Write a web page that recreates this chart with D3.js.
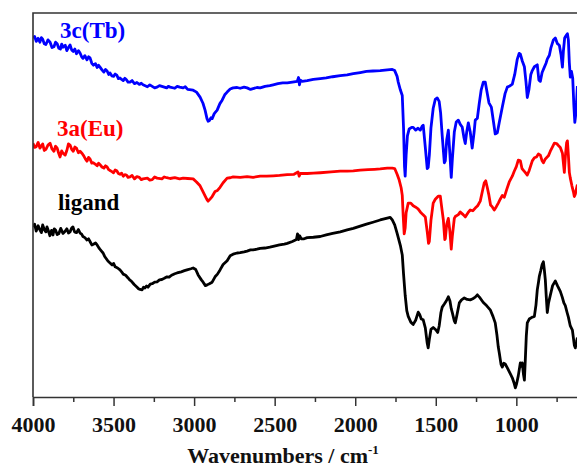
<!DOCTYPE html>
<html>
<head>
<meta charset="utf-8">
<script src="https://cdn.jsdelivr.net/npm/d3@7"></script>
<style>
  body { margin: 0; background: #fff; }
  svg { display: block; }
  text { font-family: "Liberation Serif", "Times New Roman", serif; font-weight: bold; }
</style>
</head>
<body>
<script>
var width = 577, height = 470;
var plotLeft = 33, plotRight = 613, plotTop = 13, plotBottom = 397;

// major / minor ticks (cm-1)
var majorTicks = [4000, 3500, 3000, 2500, 2000, 1500, 1000];
var minorTicks = [3750, 3250, 2750, 2250, 1750, 1250, 750];

// series: [wavenumber, transmittance (a.u., offset)]
var tbData = [
  [4000,93.5],[3990,93.9],[3980,92.6],[3968,93.4],[3957,92.4],[3948,93.6],[3940,93.2],[3930,92.0],
  [3920,91.8],[3907,93.0],[3894,92.4],[3882,91.0],[3870,91.2],[3860,92.4],[3850,92.0],[3840,90.8],
  [3830,90.6],[3822,91.9],[3814,91.1],[3800,91.6],[3790,90.2],[3780,91.0],[3770,91.7],[3760,90.4],
  [3750,90.0],[3740,90.6],[3730,89.4],[3718,90.2],[3708,89.6],[3698,88.6],[3690,88.2],[3678,88.9],
  [3665,87.8],[3655,88.6],[3646,88.3],[3635,86.9],[3625,86.4],[3612,86.8],[3602,85.8],[3593,86.4],
  [3584,85.9],[3572,85.2],[3560,84.6],[3550,85.3],[3540,84.9],[3530,84.0],[3522,84.4],[3510,83.6],
  [3500,83.5],[3490,84.1],[3480,83.8],[3470,82.9],[3460,83.1],[3450,82.7],[3440,82.4],[3430,83.0],
  [3420,82.6],[3410,82.0],[3398,82.0],[3385,82.4],[3370,81.6],[3355,81.9],[3340,81.4],[3328,81.7],
  [3317,81.3],[3290,80.8],[3275,81.3],[3260,80.9],[3245,80.5],[3230,80.7],[3215,81.1],[3200,80.9],
  [3170,80.5],[3160,80.9],[3149,80.7],[3120,80.4],[3105,80.9],[3090,80.7],[3068,80.5],[3055,80.8],
  [3040,80.1],[3006,79.9],[2985,79.4],[2963,78.1],[2945,76.5],[2932,74.7],
  [2920,72.5],[2913,71.8],[2905,72.0],[2895,72.7],[2888,72.5],[2875,73.8],[2857,74.7],[2840,76.4],
  [2826,77.3],[2810,78.7],[2795,79.4],[2776,80.2],[2758,80.5],[2733,80.6],[2714,80.4],[2690,80.7],
  [2671,80.5],[2650,80.1],[2634,80.3],[2610,80.6],[2590,80.5],[2560,80.9],[2530,81.1],[2509,81.3],
  [2480,81.6],[2450,81.8],[2422,81.8],[2390,82.0],[2360,82.2],[2352,83.2],[2346,81.3],[2340,82.5],
  [2329,82.2],[2298,82.4],[2260,82.7],[2217,82.9],[2180,83.1],[2140,83.4],[2093,83.7],[2050,83.9],
  [2012,84.2],[1969,84.5],[1930,84.8],[1890,84.9],[1845,85.0],[1801,85.2],[1770,85.3],[1755,85.0],
  [1740,83.5],[1733,82.0],[1720,80.0],[1708,78.5],[1700,70],[1694,60],[1690,57.5],[1684,63],
  [1676,68],[1665,69.8],[1650,70.2],[1640,70.2],[1625,69.5],[1610,70.0],[1596,69.5],[1585,70.5],
  [1578,70.8],[1565,65],[1553,59.5],[1547,59.8],[1540,63],[1530,70],[1516,75.2],[1503,77.5],
  [1491,77.9],[1479,77.0],[1470,74],[1460,68],[1447,61.0],[1441,61.5],[1432,67],[1422,69.5],
  [1412,63],[1404,57.2],[1397,62],[1385,69],[1373,71.6],[1360,72.1],[1348,71.0],[1336,70.3],
  [1325,67.5],[1317,66.0],[1308,69],[1298,71.4],[1286,69],[1274,64.8],[1262,69],[1255,72.1],
  [1242,72.6],[1230,76.5],[1218,80.0],[1205,82.0],[1193,82.0],[1180,79],[1170,76.6],[1155,75.5],
  [1143,72],[1131,68.5],[1118,68.8],[1106,71.5],[1087,75.5],[1070,79],[1056,80.7],[1040,81.0],
  [1025,81.5],[1010,84],[994,88],[982,89.5],[975,89.3],[963,87.5],[950,86],[940,82],[932,78.0],
  [922,80],[910,84.0],[901,85.0],[888,86],[870,86.5],[860,82.5],[851,82.2],[840,84.5],[826,85.9],
  [815,87],[808,88.0],[795,89],[785,91],[770,93.0],[758,93.5],[745,92.0],[733,91.6],[722,89],
  [714,85.9],[708,90],[700,93.5],[690,94.2],[683,94.6],[677,93],[671,87],[665,83.3],[658,84.8],
  [650,83],[643,76],[637,71.5],[630,74],[621,81]
];

var euData = [
  [4000,66.1],[3990,65.0],[3980,65.2],[3968,66.3],[3957,64.8],[3948,65.4],[3940,65.9],[3930,64.2],
  [3920,64.5],[3907,65.6],[3894,66.1],[3882,64.6],[3870,64.0],[3860,65.3],[3850,64.8],[3840,63.4],
  [3832,62.5],[3822,64.1],[3814,63.5],[3800,63.0],[3790,64.2],[3780,65.9],[3770,65.6],[3760,64.5],
  [3750,64.0],[3740,65.1],[3730,64.8],[3718,63.6],[3708,64.0],[3695,63.4],[3685,62.8],[3675,62.0],
  [3665,61.4],[3655,62.4],[3646,62.0],[3635,60.9],[3625,61.0],[3612,60.6],[3602,60.2],[3593,60.9],
  [3584,60.5],[3572,59.9],[3560,59.6],[3550,60.2],[3540,59.9],[3530,59.2],[3522,59.0],[3510,58.7],
  [3500,58.4],[3490,59.1],[3480,58.9],[3470,58.2],[3460,58.0],[3450,58.3],[3440,57.5],[3430,57.9],
  [3420,57.8],[3410,57.2],[3398,57.3],[3385,57.7],[3370,56.8],[3355,57.4],[3340,57.2],[3328,56.6],
  [3317,56.8],[3290,57.0],[3275,56.5],[3260,56.6],[3245,57.3],[3230,57.0],[3200,56.8],[3185,57.3],
  [3170,57.1],[3149,56.9],[3120,57.1],[3090,56.8],[3068,57.0],[3040,56.9],[3006,56.8],[2985,56.0],
  [2963,55.0],[2945,53.5],[2932,52.4],
  [2920,51.4],[2913,51.0],[2900,51.6],[2888,52.2],[2870,53.5],[2855,53.8],[2839,54.6],[2820,55.8],
  [2795,57.0],[2776,57.1],[2758,57.3],[2714,57.2],[2671,57.4],[2634,57.2],[2590,57.5],[2550,57.5],
  [2509,57.6],[2470,57.7],[2422,57.9],[2380,58.0],[2355,58.6],[2348,57.5],[2340,58.2],[2298,58.2],
  [2260,58.3],[2217,58.4],[2150,58.6],[2093,58.8],[2050,58.8],[2012,58.9],[1969,59.1],[1920,59.2],
  [1880,59.3],[1845,59.4],[1801,59.6],[1770,59.6],[1755,59.5],[1740,58.0],[1727,56.5],[1715,54.5],
  [1708,52.5],[1702,47],[1696,42.5],[1690,44],[1684,48],[1671,50.5],[1655,50.5],[1640,49.8],
  [1627,49.5],[1610,49.0],[1596,48.2],[1580,47.5],[1565,46.9],[1553,43],[1545,40],[1540,40.5],
  [1530,46],[1516,50.5],[1503,51.5],[1485,52.3],[1472,52.3],[1462,49],[1453,46.1],[1444,41],
  [1441,41.2],[1432,45],[1422,46.5],[1412,43],[1404,38.5],[1397,42],[1385,46.5],[1379,47.0],
  [1360,47.5],[1348,48.2],[1330,47.5],[1317,46.9],[1300,48],[1286,48.7],[1270,48.5],[1255,49.2],
  [1240,49.8],[1224,51.0],[1211,53.5],[1199,55.8],[1190,56.3],[1180,54.5],[1170,52.5],[1160,50],
  [1149,49.5],[1137,48.7],[1125,49.5],[1112,50.5],[1100,51.5],[1087,52.5],[1075,52],[1060,54],
  [1044,56],[1025,57.5],[1013,58.8],[1000,60],[988,61.7],[975,61.5],[965,59.5],[957,59.1],
  [945,58.5],[932,57.8],[920,59],[901,61.5],[888,62.3],[875,62.5],[863,63.3],[851,63],[840,61.5],
  [832,61],[820,62],[801,62.8],[789,64],[777,65],[764,66.1],[750,66],[739,65.5],[727,65],
  [714,63.5],[708,61],[702,58.5],[695,63],[688,66.2],[683,66.7],[677,63],[671,58.5],[665,57],
  [655,55],[646,53.5],[640,52.2],[634,52.8],[628,54],[621,55.3]
];

var ligandData = [
  [4000,44.3],[3990,45.0],[3980,43.2],[3968,44.6],[3957,43.5],[3948,42.8],[3940,44.8],[3930,43.6],
  [3920,43.0],[3913,44.3],[3903,43.1],[3895,42.0],[3885,43.4],[3876,42.2],[3868,43.8],[3860,43.5],
  [3850,42.3],[3840,42.5],[3828,43.9],[3814,42.6],[3802,43.1],[3790,43.8],[3780,42.7],[3770,43.0],
  [3760,44.0],[3752,44.3],[3742,43.0],[3730,42.8],[3718,43.6],[3708,42.7],[3698,42.4],[3690,41.8],
  [3678,41.5],[3665,40.9],[3655,41.2],[3646,40.5],[3635,39.6],[3625,39.8],[3612,40.1],[3602,39.6],
  [3592,38.9],[3585,38.5],[3575,38.0],[3565,37.5],[3555,36.6],[3545,36.0],[3535,35.4],[3522,34.9],
  [3509,34.4],[3500,34.8],[3490,33.9],[3475,33.6],[3460,33.1],[3450,32.6],[3440,32.0],[3425,31.7],
  [3410,31.0],[3400,30.5],[3390,30.2],[3372,29.3],[3354,28.6],[3345,28.2],[3335,28.0],[3323,27.9],
  [3314,28.6],[3305,28.4],[3295,28.9],[3286,28.6],[3272,29.4],[3260,29.5],[3245,29.9],[3230,30.0],
  [3215,30.5],[3200,30.6],[3185,30.9],[3168,31.3],[3155,31.2],[3140,31.7],[3120,32.1],[3106,32.3],
  [3080,32.6],[3060,32.9],[3044,33.1],[3020,33.4],[3006,33.6],[2990,33.2],[2975,31.8],
  [2955,30.5],[2944,29.9],[2930,29.0],[2919,29.2],[2905,29.5],[2888,29.9],[2870,31.3],[2855,32.0],
  [2839,33.1],[2820,34.5],[2795,35.5],[2776,36.8],[2758,37.2],[2733,37.5],[2714,37.6],[2690,37.8],
  [2671,38.0],[2650,38.3],[2634,38.3],[2610,38.5],[2590,38.7],[2560,38.8],[2530,39.0],[2509,39.2],
  [2470,39.6],[2440,39.8],[2422,40.0],[2390,40.5],[2365,41.0],[2358,42.5],[2352,41.0],[2345,42.0],
  [2335,41.2],[2317,41.2],[2298,41.5],[2260,41.6],[2217,41.8],[2180,42.2],[2140,42.6],[2093,43.0],
  [2050,43.5],[2012,43.9],[1969,44.5],[1930,45.0],[1890,45.5],[1845,46.1],[1801,46.6],[1783,46.8],
  [1770,46.1],[1755,44.8],[1739,42.5],[1720,39.5],[1708,37],[1700,32],[1690,26.5],[1680,22.5],
  [1671,21],[1655,19.5],[1640,18.9],[1625,20],[1609,22.1],[1600,21.5],[1590,20.3],[1578,20.1],
  [1565,18],[1553,14],[1547,12.8],[1540,15],[1530,17.6],[1516,18.1],[1500,17.5],[1488,16.8],
  [1479,18.5],[1468,22],[1460,23.4],[1447,24.2],[1435,25],[1422,26.1],[1412,25],[1404,23],
  [1397,21.9],[1385,19.8],[1379,19.3],[1368,21.5],[1354,24.5],[1340,25.3],[1323,25.8],[1305,25.4],
  [1286,25.3],[1270,25.6],[1255,26],[1242,26.6],[1225,25.8],[1205,24.6],[1185,23.8],[1162,22.7],
  [1145,21],[1131,19.3],[1120,16],[1112,13],[1106,11.5],[1095,8.5],[1087,7.8],[1078,8.8],
  [1069,8.6],[1055,7.5],[1037,6],[1025,5],[1013,3.5],[1006,2.4],[998,3.5],[988,5.5],[975,8.9],
  [968,8.0],[963,8.9],[956,6],[950,4.4],[944,10],[938,16],[932,19.3],[920,20.3],[901,20.8],
  [888,21],[878,24],[870,27.9],[862,30],[857,31.5],[848,33],[840,34.5],[832,35.2],[826,33],
  [820,30.5],[814,26],[808,22],[800,24.5],[789,26.5],[775,29],[758,30.2],[745,29],[727,27.5],
  [715,26],[705,24.5],[696,23.8],[685,22],[677,20.8],[665,18.5],[652,17.4],[640,13.5],[634,12.8],
  [628,14],[621,15.5]
];

var seriesNames = ["3c(Tb)", "3a(Eu)", "ligand"];
var seriesColors = ["#0000ff", "#ff0000", "#000000"];
var labelAt = [[3832, 38], [3851, 136], [3845, 210]]; // [wavenumber, baseline px]

var x = d3.scaleLinear().domain([4000, 400]).range([plotLeft, plotRight]);
var y = d3.scaleLinear().domain([0, 100]).range([plotBottom, plotTop]);

var svg = d3.select("body").append("svg").attr("width", width).attr("height", height);

svg.append("defs").append("clipPath").attr("id", "plot")
  .append("rect").attr("x", plotLeft).attr("y", plotTop)
  .attr("width", plotRight - plotLeft).attr("height", plotBottom - plotTop);

var line = d3.line().x(function(d) { return x(d[0]); }).y(function(d) { return y(d[1]); });

var traces = [tbData, euData, ligandData];
var g = svg.append("g").attr("clip-path", "url(#plot)");
traces.forEach(function(d, i) {
  g.append("path").datum(d)
    .attr("d", line)
    .attr("fill", "none")
    .attr("stroke", seriesColors[i])
    .attr("stroke-width", 2.8)
    .attr("stroke-linejoin", "round");
});

// frame (top + left)
svg.append("path")
  .attr("d", "M" + plotRight + "," + plotTop + "H" + plotLeft + "V" + plotBottom)
  .attr("fill", "none").attr("stroke", "#333").attr("stroke-width", 1.6);

// bottom axis
var xAxis = d3.axisBottom(x).tickValues(majorTicks).tickSize(9).tickPadding(10).tickFormat(d3.format("d"));
var ax = svg.append("g").attr("transform", "translate(0," + plotBottom + ")").call(xAxis);
ax.select(".domain").attr("stroke", "#333").attr("stroke-width", 1.6);
ax.selectAll(".tick line").attr("stroke", "#333").attr("stroke-width", 1.5);
ax.selectAll(".tick text").attr("font-size", 22).attr("fill", "#111")
  .attr("font-family", "Liberation Serif").attr("font-weight", "bold");

var minorAxis = d3.axisBottom(x).tickValues(minorTicks).tickSize(5).tickFormat("");
var mx = svg.append("g").attr("transform", "translate(0," + plotBottom + ")").call(minorAxis);
mx.select(".domain").remove();
mx.selectAll(".tick line").attr("stroke", "#333").attr("stroke-width", 1.5);

// axis title
var title = svg.append("text").attr("x", 283).attr("y", 463)
  .attr("text-anchor", "middle").attr("font-size", 22).attr("fill", "#111");
title.append("tspan").text("Wavenumbers / cm");
title.append("tspan").attr("dy", -9).attr("font-size", 13).text("-1");

// series labels
seriesNames.forEach(function(n, i) {
  svg.append("text")
    .attr("x", x(labelAt[i][0]))
    .attr("y", labelAt[i][1])
    .attr("font-size", 23)
    .attr("fill", seriesColors[i])
    .text(n);
});
</script>
</body>
</html>
